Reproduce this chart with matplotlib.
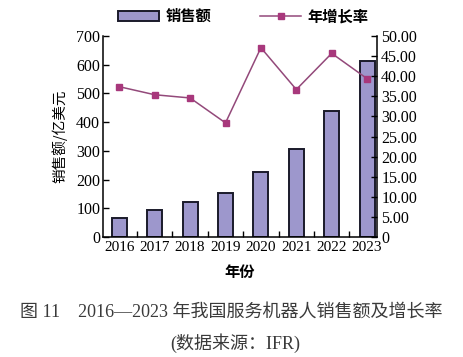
import numpy as np
import matplotlib
matplotlib.use("Agg")
import matplotlib.pyplot as plt
from matplotlib.patches import Patch
from matplotlib.lines import Line2D

years = ["2016", "2017", "2018", "2019", "2020", "2021", "2022", "2023"]
sales = [65, 95, 122, 155, 225, 305, 440, 613]          # 亿美元
growth = [37.4, 35.4, 34.6, 28.4, 47.1, 36.7, 45.7, 39.4]  # %

serif = ['Liberation Serif', 'Noto Sans CJK SC']
cjk = ['Noto Sans CJK SC', 'Liberation Serif']
bar_col = '#9d97cc'
line_col = '#93497a'
mark_col = '#a8387c'

fig = plt.figure(figsize=(4.63, 3.57), dpi=100)
ax = fig.add_axes([0.2225, 0.336, 0.5918, 0.563])
x = np.arange(len(years))

ax.bar(x, sales, width=0.42, color=bar_col, edgecolor='#1a1a2a', linewidth=1.4)
ax.set_xlim(-0.46, 7.28)
ax.set_ylim(0, 700)
ax.set_yticks(range(0, 701, 100))
ax.set_xticks(x)
ax.set_xticklabels(years, family=serif, fontsize=11)
ax.set_xticks(x[:-1] + 0.5, minor=True)
ax.tick_params(axis='x', which='major', length=0, pad=3)
ax.tick_params(axis='x', which='minor', direction='in', length=4, width=1)
ax.tick_params(axis='y', direction='in', length=4, width=1, labelsize=11.5, pad=2)
for t in ax.get_yticklabels():
    t.set_family(serif)
ax.spines['top'].set_visible(False)
ax.spines['right'].set_visible(False)
for s in ['left', 'bottom']:
    ax.spines[s].set_linewidth(1.1)
ax.set_ylabel('销售额/亿美元', family=cjk, fontsize=10.5, labelpad=6)
ax.set_xlabel('年份', family=cjk, fontsize=11, fontweight='bold', labelpad=7)

ax2 = ax.twinx()
ax2.plot(x, growth, color=line_col, linewidth=1.1, marker='s', markersize=4,
         markerfacecolor=mark_col, markeredgecolor=mark_col)
ax2.set_ylim(0, 50)
ax2.set_yticks(range(0, 51, 5))
ax2.set_yticklabels(['0'] + ['%.2f' % v for v in range(5, 51, 5)], family=serif)
ax2.tick_params(axis='y', direction='in', length=4, width=1, labelsize=11.5, pad=3)
ax2.spines['top'].set_visible(False)
ax2.spines['left'].set_visible(False)
ax2.spines['bottom'].set_visible(False)
ax2.spines['right'].set_linewidth(1.1)

handles = [Patch(facecolor=bar_col, edgecolor='#1a1a2a', linewidth=1.4),
           Line2D([], [], color=line_col, linewidth=1.1, marker='s', markersize=4,
                  markerfacecolor=mark_col, markeredgecolor=mark_col)]
fig.legend(handles, ['销售额', '年增长率'], loc='center', bbox_to_anchor=(0.525, 0.955),
           ncol=2, frameon=False, prop={'family': cjk, 'size': 11, 'weight': 'bold'},
           handlelength=2.7, handleheight=0.6, columnspacing=3.2, handletextpad=0.4)

fig.text(0.5, 0.126, '图 11    2016—2023 年我国服务机器人销售额及增长率',
         ha='center', va='center', family=serif, fontsize=13, color='#3a3a3a')
fig.text(0.508, 0.04, '(数据来源：IFR)', ha='center', va='center',
         family=serif, fontsize=13, color='#3a3a3a')

fig.savefig('out.png', dpi=100)
